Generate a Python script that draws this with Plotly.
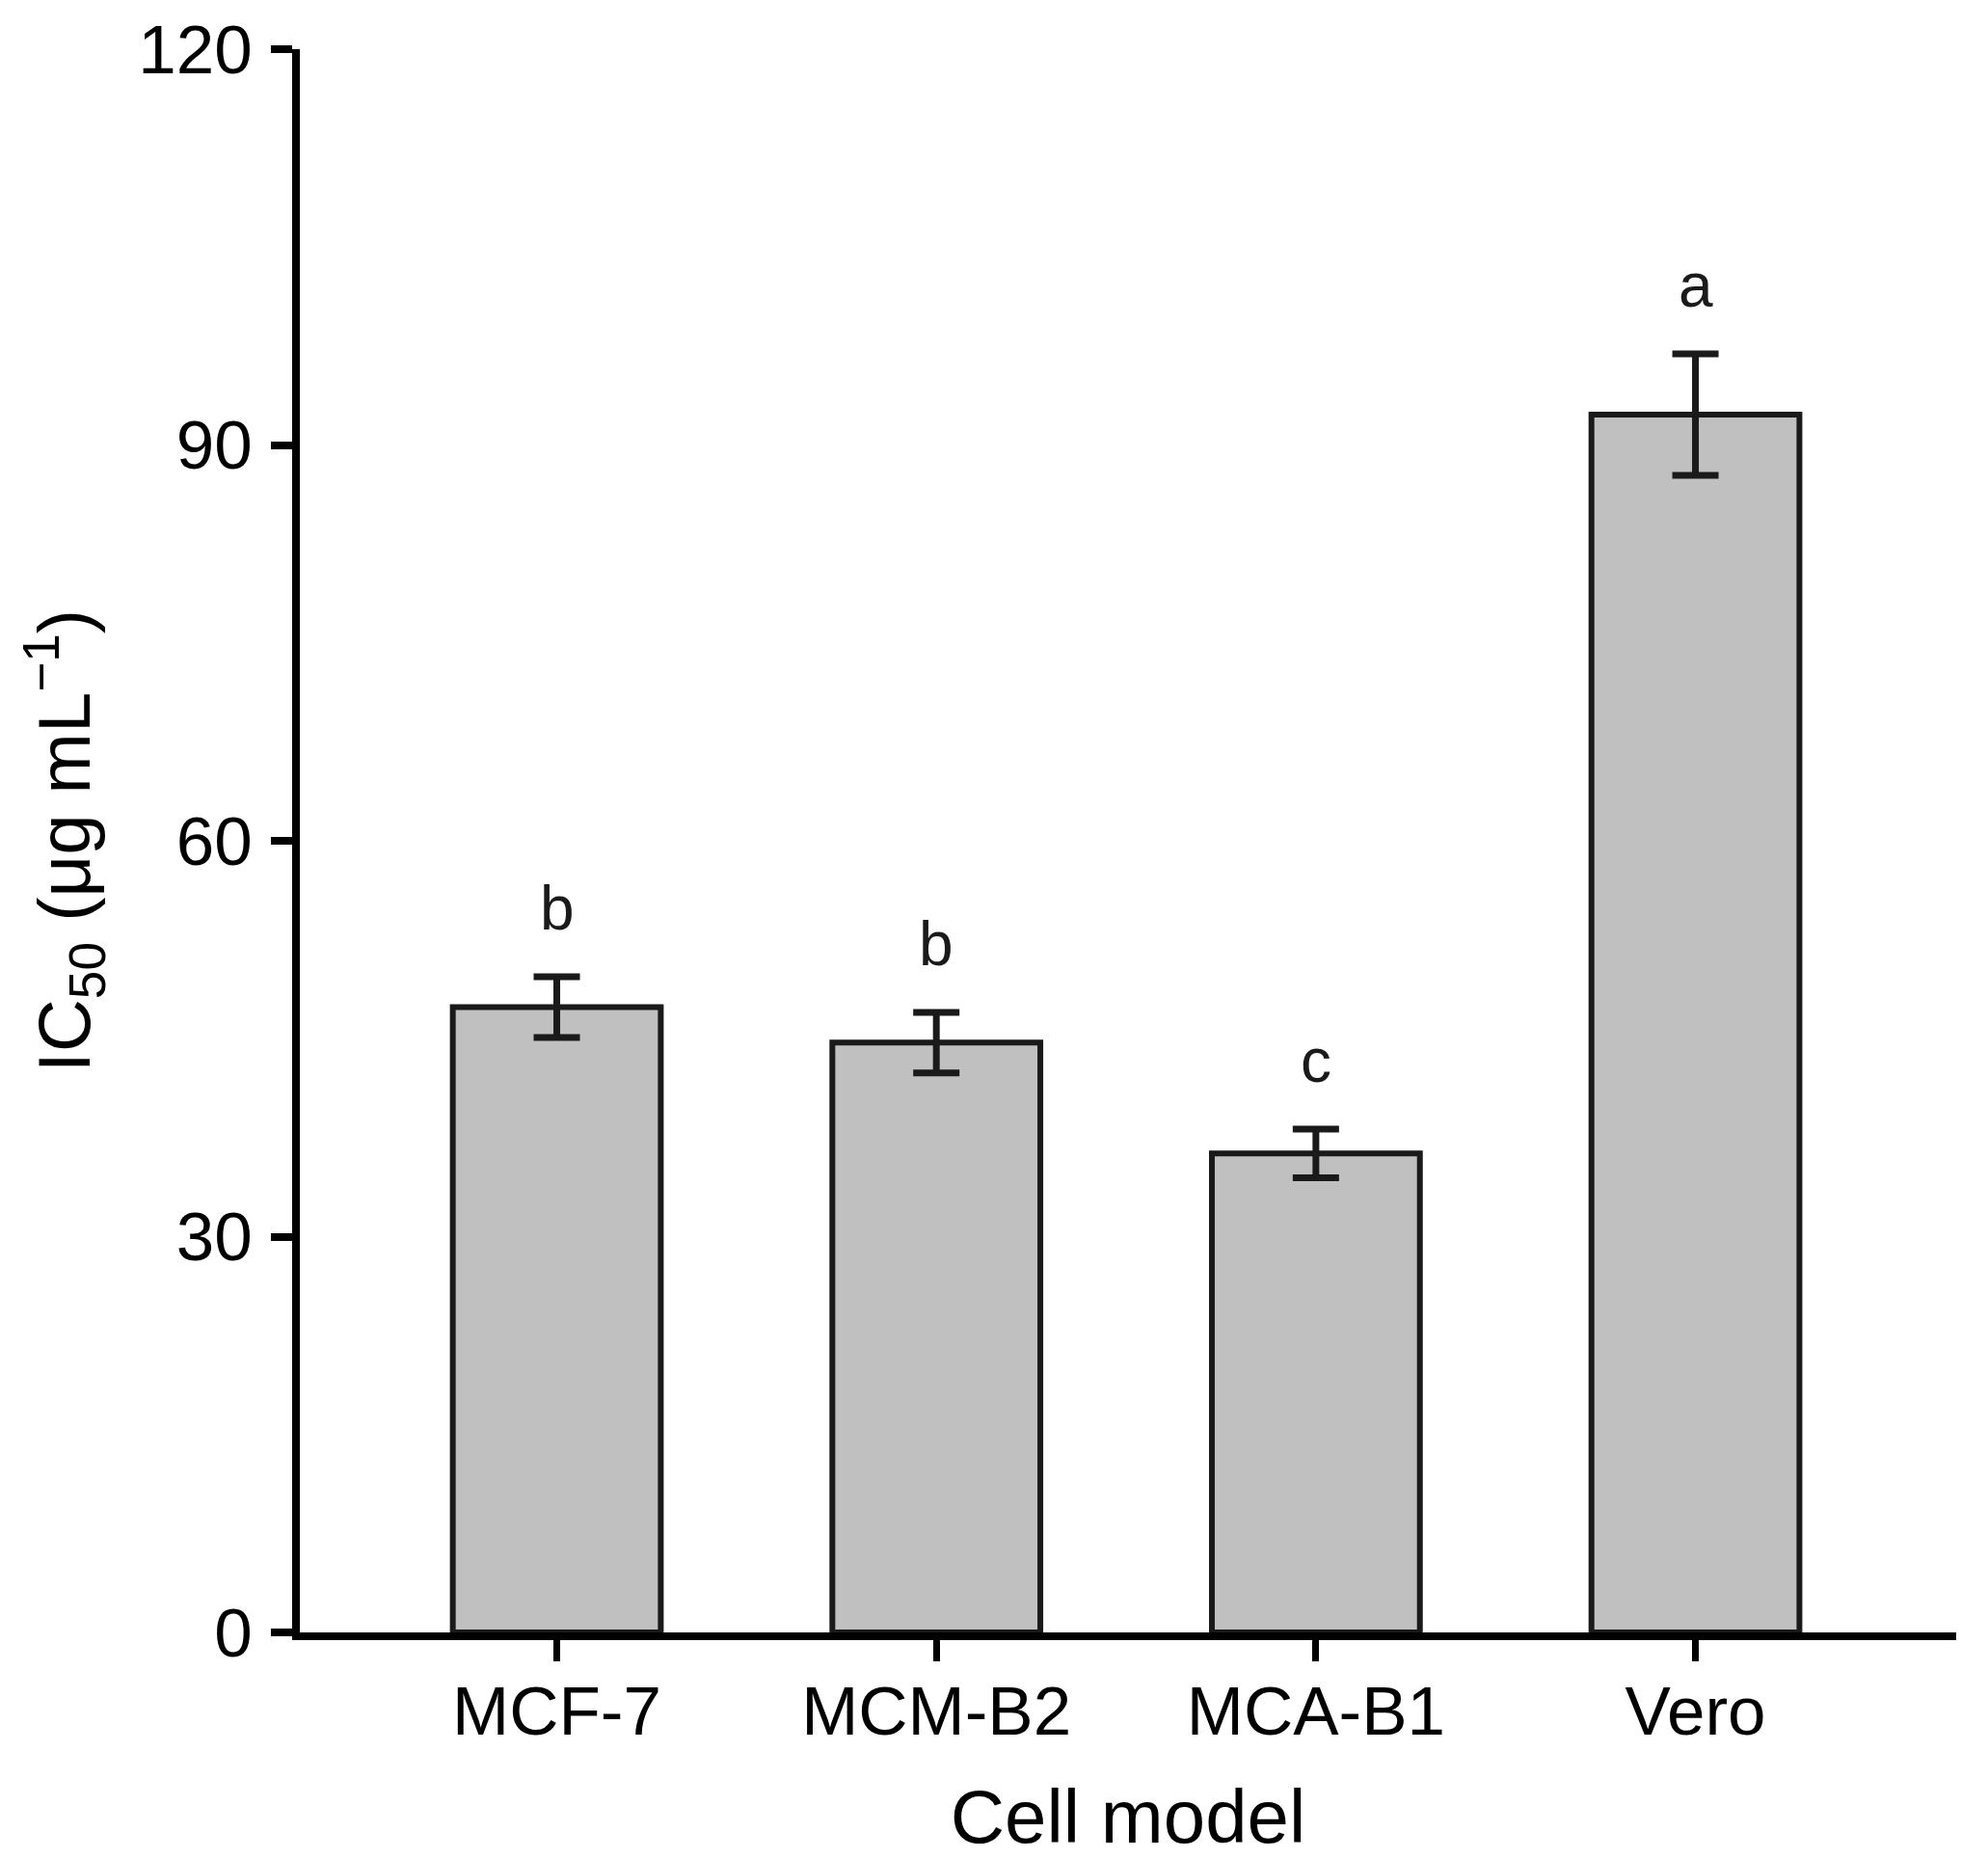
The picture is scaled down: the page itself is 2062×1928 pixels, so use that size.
import plotly.graph_objects as go

categories = ["MCF-7", "MCM-B2", "MCA-B1", "Vero"]
ic50_mean = [47.4, 44.7, 36.3, 92.3]
ic50_err = [2.3, 2.3, 1.85, 4.6]
group_letters = ["b", "b", "c", "a"]
y_ticks = [0, 30, 60, 90, 120]

FONT = "Liberation Sans, Arial, sans-serif"
INK = "#1a1a1a"

fig = go.Figure()
fig.add_trace(go.Bar(
    x=categories,
    y=ic50_mean,
    width=0.548,
    marker=dict(color="#c0c0c0", line=dict(color=INK, width=6)),
    error_y=dict(type="data", array=ic50_err, visible=True,
                 color=INK, thickness=7, width=24),
    showlegend=False,
))

for cat, m, e, lab in zip(categories, ic50_mean, ic50_err, group_letters):
    fig.add_annotation(x=cat, y=m + e, text=lab, showarrow=False,
                       yanchor="middle", yshift=71,
                       font=dict(family=FONT, size=64, color=INK))

fig.update_layout(
    width=2062, height=1928,
    margin=dict(l=311, r=33, t=49, b=235),
    plot_bgcolor="white", paper_bgcolor="white",
    font=dict(family=FONT, color="black"),
)
fig.update_xaxes(
    range=[-0.677, 3.687],
    showline=True, linecolor="black", linewidth=8,
    ticks="outside", ticklen=22, tickwidth=7, tickcolor="black",
    tickfont=dict(family=FONT, size=71, color="black"),
    ticklabelstandoff=-9,
    showgrid=False, zeroline=False,
    title=dict(text="Cell model", font=dict(family=FONT, size=78, color="black"), standoff=46),
)
fig.update_yaxes(
    range=[0, 120], tickvals=y_ticks,
    showline=True, linecolor="black", linewidth=8,
    ticks="outside", ticklen=22, tickwidth=8, tickcolor="black",
    tickfont=dict(family=FONT, size=71, color="black"),
    ticklabelstandoff=5,
    showgrid=False, zeroline=False,
    title=dict(text="IC<sub>50</sub> (μg mL<sup>−1</sup>)",
               font=dict(family=FONT, size=76, color="black"), standoff=28),
)

fig.write_html("out.html", config={"displayModeBar": False},
               post_script="document.body.style.margin='0';")
